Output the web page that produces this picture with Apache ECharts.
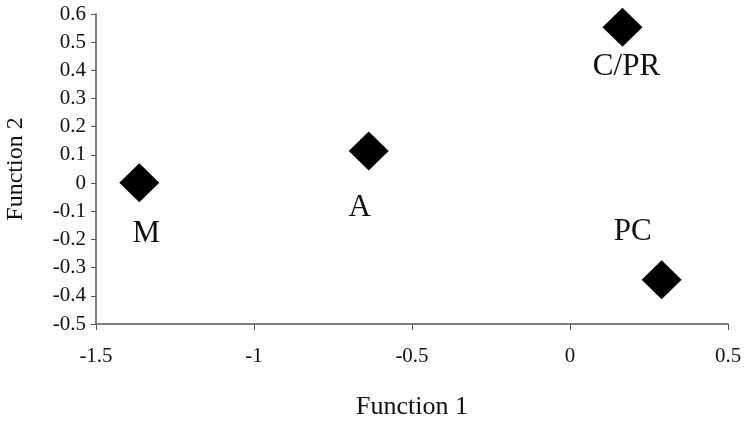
<!DOCTYPE html>
<html><head><meta charset="utf-8">
<script src="https://cdn.jsdelivr.net/npm/echarts@6/dist/echarts.min.js"></script>
<style>html,body{margin:0;padding:0;background:#fff}#c{width:744px;height:422px}</style>
</head><body><div id="c"></div>
<script>
var groups = ['M', 'A', 'C/PR', 'PC'];
var function1 = [-1.363, -0.637, 0.166, 0.29];
var function2 = [0.001, 0.114, 0.553, -0.343];
var xTicks = [-1.5, -1, -0.5, 0, 0.5];
var yTicks = [-0.5, -0.4, -0.3, -0.2, -0.1, 0, 0.1, 0.2, 0.3, 0.4, 0.5, 0.6];

var labelOffsets = {'M': [7, 51], 'A': [-9, 57], 'C/PR': [4, 40], 'PC': [-29, -48]};
var font = '"Liberation Serif", "Times New Roman", serif';
var data = groups.map(function (g, i) {
  return {
    name: g,
    value: [function1[i], function2[i]],
    label: {show: true, position: 'inside', offset: labelOffsets[g], formatter: g,
            fontFamily: font, fontSize: 31, color: '#111'}
  };
});
var chart = echarts.init(document.getElementById('c'));
chart.setOption({
  animation: false,
  backgroundColor: '#fff',
  grid: {left: 96, right: 16, top: 14, bottom: 98, outerBoundsMode: 'none', containLabel: false},
  xAxis: {
    type: 'value', min: xTicks[0], max: xTicks[xTicks.length - 1], interval: 0.5,
    splitLine: {show: false},
    axisLine: {onZero: false, lineStyle: {color: '#555', width: 1.5}},
    axisTick: {show: true, length: 6, lineStyle: {color: '#555'}},
    axisLabel: {fontFamily: font, fontSize: 21, color: '#111', margin: 22},
    name: 'Function 1', nameLocation: 'middle', nameGap: 70,
    nameTextStyle: {fontFamily: font, fontSize: 26, color: '#111'}
  },
  yAxis: {
    type: 'value', min: yTicks[0], max: yTicks[yTicks.length - 1], interval: 0.1,
    splitLine: {show: false},
    axisLine: {show: true, onZero: false, lineStyle: {color: '#555', width: 1.5}},
    axisTick: {show: true, length: 5, lineStyle: {color: '#555'}},
    axisLabel: {fontFamily: font, fontSize: 21, color: '#111', margin: 10,
                formatter: function (v) { return String(Math.round(v * 10) / 10); }},
    name: 'Function 2', nameLocation: 'middle', nameGap: 68,
    nameTextStyle: {fontFamily: font, fontSize: 24, color: '#111'}
  },
  series: [{
    type: 'scatter', symbol: 'diamond', symbolSize: [40, 39],
    itemStyle: {color: '#000', opacity: 1},
    data: data
  }]
});
</script></body></html>
